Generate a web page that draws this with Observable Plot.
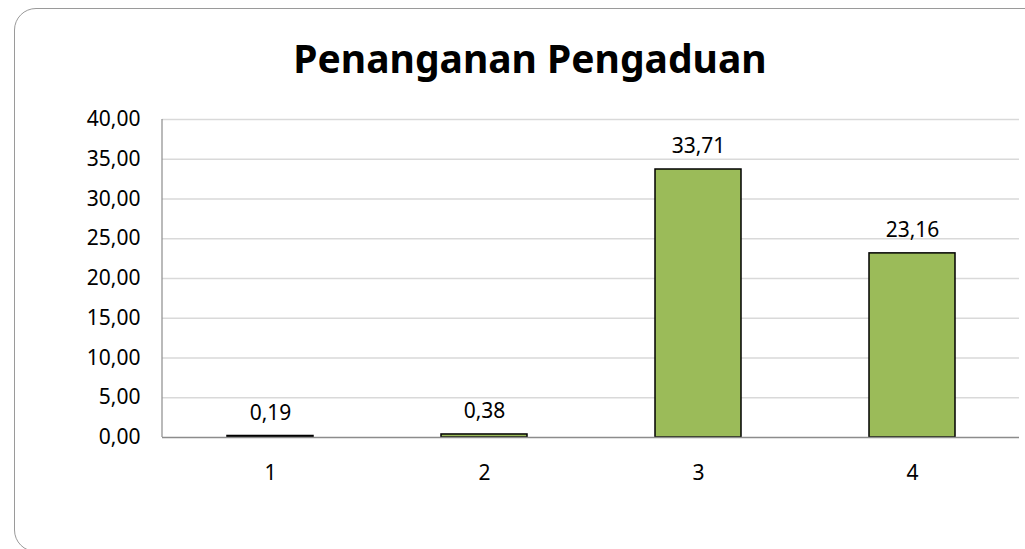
<!DOCTYPE html>
<html><head><meta charset="utf-8">
<script src="https://cdn.jsdelivr.net/npm/d3@7"></script>
<script src="https://cdn.jsdelivr.net/npm/@observablehq/plot@0.6"></script>
<style>
html,body{margin:0;padding:0;background:#fff;overflow:hidden;}
#wrap{position:relative;width:1025px;height:549px;overflow:hidden;font-family:"Noto Sans",sans-serif;}
#frame{position:absolute;left:14px;top:8px;width:1060px;height:544px;border:1px solid #9a9a9a;border-radius:22px;box-sizing:border-box;}
#title{position:absolute;left:0;width:1060px;top:31px;text-align:center;font-weight:bold;font-size:39px;color:#000;}
#chart{position:absolute;left:0;top:0;}
</style></head>
<body><div id="wrap"><div id="frame"></div><div id="title">Penanganan Pengaduan</div><div id="chart"></div></div>
<script>
const categories = ["1","2","3","4"];
const values = [0.19, 0.38, 33.71, 23.16];
const yTicks = [0,5,10,15,20,25,30,35,40];
const data = categories.map((c,i)=>({cat:c, value:values[i]}));
const fmt = d => d.toFixed(2).replace(".", ",");
const plot = Plot.plot({
  width: 1025, height: 549,
  marginLeft: 162, marginRight: 6, marginTop: 119, marginBottom: 112,
  style: {fontFamily: '"Noto Sans", sans-serif', fontSize: "21px", color: "#000", background: "transparent"},
  x: {domain: categories, paddingInner: 0.6, paddingOuter: 0.3, label: null, tickSize: 0, tickPadding: 28},
  y: {domain: [0, 40], ticks: yTicks, tickFormat: fmt, label: null, tickSize: 0, tickPadding: 22},
  marks: [
    Plot.gridY(yTicks.filter(t=>t>0), {stroke: "#d9d9d9", strokeOpacity: 1, strokeWidth: 1.5}),
    Plot.barY(data, {x: "cat", y: "value", fill: "#9BBB59", stroke: "#000", strokeWidth: 1.5}),
    Plot.ruleY([0], {stroke: "#8c8c8c", strokeWidth: 1.5}),
    Plot.text(data, {x: "cat", y: "value", text: d => fmt(d.value), dy: -23, fontSize: 21, fill: "#000"})
  ]
});
// left axis line drawn through the plot's y scale
const ys = plot.scale("y");
d3.select(plot).append("line")
  .attr("x1", 162).attr("x2", 162)
  .attr("y1", ys.apply(0)).attr("y2", ys.apply(40))
  .attr("stroke", "#8c8c8c").attr("stroke-width", 1.2);
document.getElementById("chart").appendChild(plot);
</script></body></html>
